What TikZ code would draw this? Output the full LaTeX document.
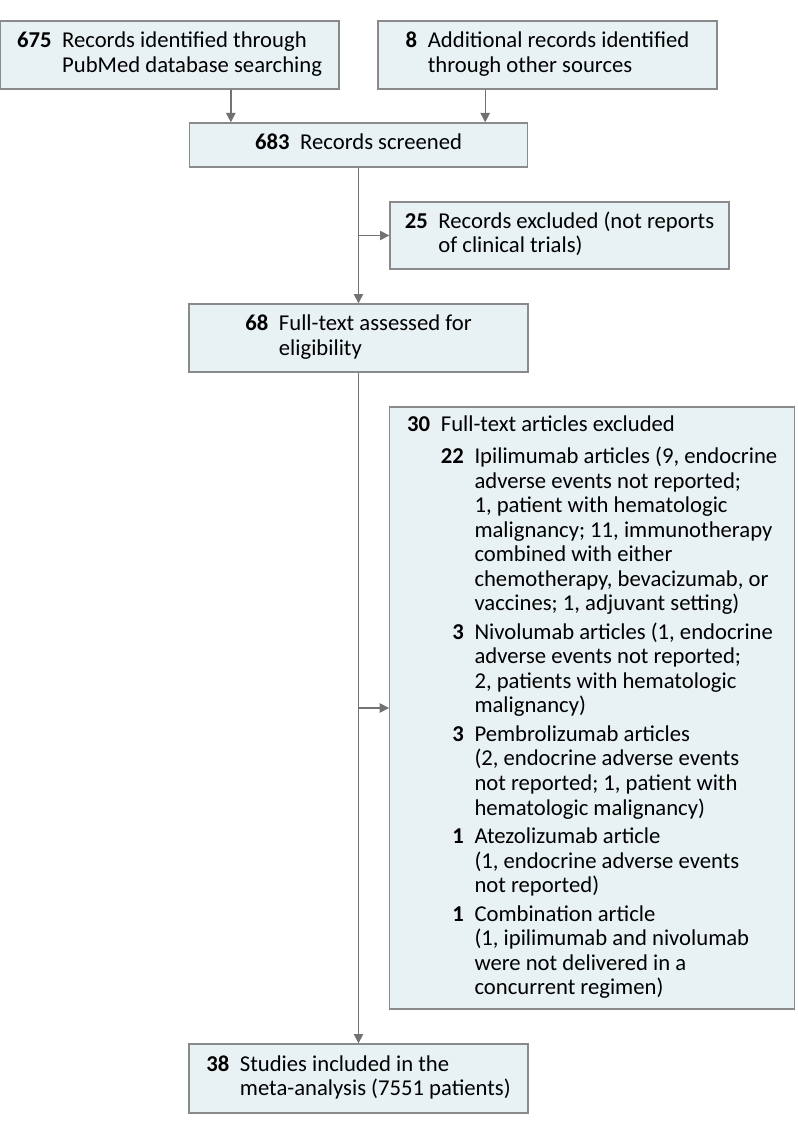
\documentclass[tikz,border=0pt]{standalone}
\usepackage{fontspec}
\setmainfont{Carlito}
\usepackage{tikz}
\usetikzlibrary{positioning, calc, arrows.meta}
\definecolor{boxfill}{HTML}{E8F1F4}
\definecolor{boxline}{HTML}{8A8A8A}
\definecolor{arrowgray}{HTML}{727272}
\tikzstyle{box} = [rectangle, draw=boxline, fill=boxfill, line width=1pt, inner sep=0pt, minimum width=254.25pt, minimum height=51pt, text centered, font=\fontsize{17}{18.4}\selectfont]
\tikzstyle{arrow} = [-{Triangle[width=7pt,length=7pt]}, draw=arrowgray, fill=arrowgray, line width=1pt]
\newcommand{\nr}[1]{\textbf{#1}}

\begin{document}
\begin{tikzpicture}[node distance=60pt]
  \useasboundingbox (0,0) rectangle (598.5pt,-850.5pt);
  % sources
  \node (rec1) [box] at (127.125pt,-41.25pt) {\begin{tabular}{@{}r@{\hspace{8pt}}l@{}}
    \nr{675} & Records identified through\\
             & PubMed database searching\end{tabular}};
  \node (rec2) [box, right of=rec1, xshift=223.5pt] {\begin{tabular}{@{}r@{\hspace{8pt}}l@{}}
    \nr{8} & Additional records identified\\
           & through other sources\end{tabular}};

  % screening
  \node (screen) [box, below of=rec1, yshift=-7.5pt, xshift=141.75pt, minimum width=253.5pt, minimum height=33pt] {\begin{tabular}{@{}r@{\hspace{8pt}}l@{}}
    \nr{683} & Records screened\end{tabular}};
  \node (excl1) [box, below of=screen, yshift=-7.875pt, xshift=150.75pt, minimum height=50.25pt] {\begin{tabular}{@{}r@{\hspace{8pt}}l@{}}
    \nr{25} & Records excluded (not reports\\
            & of clinical trials)\end{tabular}};

  % eligibility
  \node (full) [box, below of=screen, yshift=-84.75pt] {\begin{tabular}{@{}r@{\hspace{8pt}}l@{}}
    \nr{68} & Full-text assessed for\\
            & eligibility\end{tabular}};
  \node (excl2) [box, below of=full, yshift=-217.5pt, xshift=175.3pt, minimum width=303.75pt, minimum height=451.5pt] {\begin{tabular}{@{}r@{\hspace{8pt}}r@{\hspace{8pt}}l@{}}
    \nr{30} & \multicolumn{2}{@{}l@{}}{Full-text articles excluded}\\[6pt]
      & \nr{22} & Ipilimumab articles (9, endocrine\\
      &         & adverse events not reported;\\
      &         & 1, patient with hematologic\\
      &         & malignancy; 11, immunotherapy\\
      &         & combined with either\\
      &         & chemotherapy, bevacizumab, or\\
      &         & vaccines; 1, adjuvant setting)\\[3pt]
      & \nr{3}  & Nivolumab articles (1, endocrine\\
      &         & adverse events not reported;\\
      &         & 2, patients with hematologic\\
      &         & malignancy)\\[3pt]
      & \nr{3}  & Pembrolizumab articles\\
      &         & (2, endocrine adverse events\\
      &         & not reported; 1, patient with\\
      &         & hematologic malignancy)\\[3pt]
      & \nr{1}  & Atezolizumab article\\
      &         & (1, endocrine adverse events\\
      &         & not reported)\\[3pt]
      & \nr{1}  & Combination article\\
      &         & (1, ipilimumab and nivolumab\\
      &         & were not delivered in a\\
      &         & concurrent regimen)\end{tabular}};

  % included
  \node (incl) [box, below of=full, yshift=-495.375pt, minimum height=51.75pt] {\begin{tabular}{@{}r@{\hspace{8pt}}l@{}}
    \nr{38} & Studies included in the\\
            & meta-analysis (7551 patients)\end{tabular}};

  \coordinate (in1) at ($(screen.north west) + (31.5pt, 0)$);
  \coordinate (in2) at ($(screen.north east) + (-32.25pt, 0)$);

  \draw [arrow](rec1.south -| in1) -- (in1);
  \draw [arrow](rec2.south -| in2) -- (in2);
  \draw [arrow](screen) -- (full);
  \draw [arrow](screen |- excl1) -- (excl1);
  \draw [arrow](full) -- (incl);
  \draw [arrow](full |- excl2) -- (excl2);
\end{tikzpicture}
\end{document}
